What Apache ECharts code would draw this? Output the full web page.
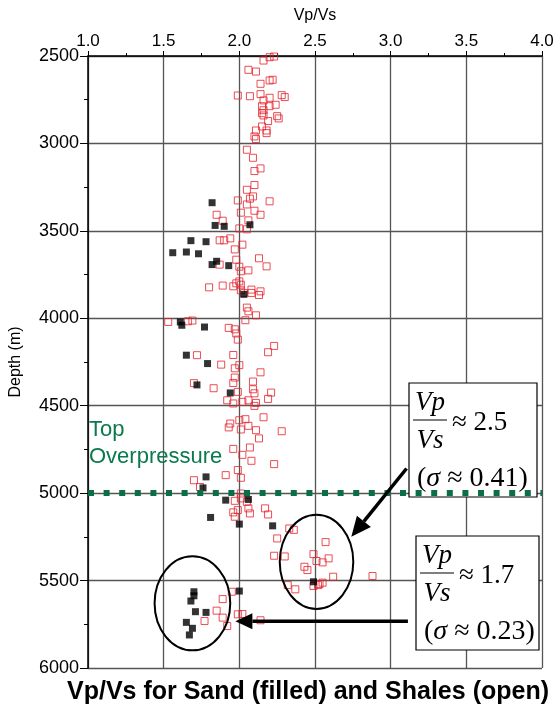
<!DOCTYPE html>
<html>
<head>
<meta charset="utf-8">
<script src="https://cdn.jsdelivr.net/npm/echarts@6/dist/echarts.min.js"></script>
<style>
  html, body { margin: 0; padding: 0; background: #fff; }
  #chart { width: 560px; height: 708px; }
</style>
</head>
<body>
<div id="chart"></div>
<script>
// Shales (open squares): Vp/Vs and depth (m)
const shaleRatio = [
    2.20, 2.23, 2.16, 2.06, 2.11, 2.14, 2.20, 2.22, 1.99, 2.07, 2.14, 2.20, 2.28, 2.30, 2.16, 2.20, 2.24, 2.15,
    2.15, 2.16, 2.16, 2.25, 2.26, 2.19, 2.15, 2.18, 2.18, 2.11, 2.10, 2.11, 2.05, 2.09, 2.14, 2.10, 2.10, 2.05,
    1.99, 2.07, 2.09, 2.05, 2.20, 2.01, 2.10, 2.14, 1.85, 1.89, 2.06, 2.00, 2.05, 1.87, 1.90, 1.94, 2.02, 1.97,
    2.13, 2.18, 1.98, 1.87, 2.00, 2.01, 2.06, 1.80, 1.89, 1.96, 1.98, 2.00, 2.01, 2.01, 2.03, 2.08, 2.14, 2.13,
    2.08, 2.05, 2.06, 2.11, 2.04, 1.53, 1.66, 1.69, 1.93, 1.97, 1.98, 1.99, 2.23,
    1.72, 1.88, 1.96, 2.19, 2.00, 1.97, 2.14, 1.70, 1.83, 1.97, 1.96, 2.09, 2.09, 2.10, 1.99, 1.92, 1.96, 2.02,
    2.06, 2.11, 2.10, 2.19, 2.21, 2.00, 2.04, 1.94, 1.93, 2.06, 2.11, 2.01, 2.13, 2.16, 2.28, 1.96, 2.07, 2.02,
    2.08, 2.23, 1.99, 2.01, 1.91, 1.70, 1.74,
    2.01, 2.01, 1.97, 2.05, 2.06, 2.07, 1.99, 1.96, 1.97, 2.17, 2.19, 2.33, 2.36, 2.25, 2.23, 2.30, 2.32, 2.37,
    2.57, 2.49, 2.51, 2.55, 2.59, 2.43, 2.45, 2.62, 2.88, 2.49, 2.52, 2.55, 2.53,
    1.95, 1.89, 1.85, 1.77, 1.89, 1.92, 1.99, 2.02, 2.14
];
const shaleDepth = [
    2507, 2503, 2526, 2579, 2589, 2659, 2640, 2636, 2726, 2730, 2718, 2739, 2724, 2735, 2754, 2787, 2779, 2787,
    2827, 2840, 2810, 2844, 2857, 2872, 2903, 2926, 2941, 2926, 2960, 2975, 3036, 3082, 3143, 3158, 3238, 3265,
    3326, 3316, 3303, 3349, 3331, 3396, 3385, 3408, 3408, 3442, 3440, 3486, 3491, 3554, 3554, 3543, 3579, 3606,
    3657, 3703, 3665, 3693, 3705, 3731, 3726, 3823, 3813, 3817, 3800, 3789, 3808, 3840, 3855, 3836, 3846, 3867,
    3855, 3939, 3960, 3983, 4011, 4021, 4017, 4013, 4055, 4063, 4087, 4122, 4158,
    4211, 4265, 4210, 4194, 4268, 4286, 4309, 4371, 4400, 4339, 4370, 4362, 4406, 4429, 4421, 4469, 4487, 4478,
    4469, 4484, 4501, 4461, 4425, 4583, 4577, 4602, 4624, 4615, 4640, 4636, 4687, 4566, 4646, 4747, 4739, 4781,
    4815, 4834, 4868, 4912, 4897, 4926, 4965,
    5002, 5030, 5044, 5050, 5087, 5116, 5097, 5110, 5135, 5087, 5122, 5202, 5210, 5259, 5358, 5362, 5526, 5550,
    5280, 5349, 5388, 5396, 5373, 5421, 5440, 5478, 5474, 5531, 5526, 5512, 5520,
    5564, 5606, 5672, 5731, 5712, 5760, 5693, 5691, 5727
];

// Sands (filled squares)
const sandRatio = [
    1.82, 1.84, 1.90, 2.07, 1.68, 1.78, 1.56, 1.65, 1.73, 1.85, 1.82, 1.93, 2.03, 1.61, 1.62, 1.77, 1.65, 1.79,
    1.72, 1.94, 1.78, 1.76, 1.91, 2.06, 1.81, 2.00, 2.22, 2.49, 2.00,
    1.70, 1.70, 1.68, 1.71, 1.78, 1.65, 1.69, 1.67
];
const sandDepth = [
    3339, 3469, 3474, 3465, 3556, 3562, 3625, 3621, 3631, 3674, 3693, 3699, 3863, 4021, 4040, 4050, 4211, 4259,
    4381, 4427, 4907, 4970, 5040, 5036, 5139, 5177, 5187, 5507, 5560,
    5564, 5587, 5617, 5678, 5682, 5739, 5773, 5811
];

const topOverpressure = 5000;

// annotation clusters: [centre ratio, centre depth, half-width ratio, half-height depth]
const shaleCluster = [2.51, 5393, 0.243, 269];
const sandCluster = [1.69, 5630, 0.25, 269];

const chart = echarts.init(document.getElementById("chart"));

const option = {
    animation: false,
    grid: { left: 85, right: 18, top: 56, bottom: 40 },
    xAxis: {
        type: "value",
        position: "top",
        min: 1,
        max: 4,
        interval: 0.5,
        name: "Vp/Vs",
        nameLocation: "middle",
        nameGap: 32,
        nameTextStyle: { fontFamily: "Liberation Sans", fontSize: 16, color: "#000" },
        axisLine: { lineStyle: { color: "#000", width: 1.5 } },
        axisTick: { length: 5, lineStyle: { color: "#000" } },
        minorTick: { show: true, splitNumber: 2, length: 3, lineStyle: { color: "#000" } },
        axisLabel: {
            margin: 6,
            fontFamily: "Liberation Sans",
            fontSize: 17,
            color: "#000",
            formatter: v => v.toFixed(1)
        },
        splitLine: { lineStyle: { color: "#555", width: 1.3 } }
    },
    yAxis: {
        type: "value",
        inverse: true,
        min: 2500,
        max: 6000,
        interval: 500,
        name: "Depth (m)",
        nameLocation: "middle",
        nameRotate: 90,
        nameGap: 64,
        nameTextStyle: { fontFamily: "Liberation Sans", fontSize: 16, color: "#000" },
        axisLine: { lineStyle: { color: "#000", width: 1.5 } },
        axisTick: { length: 8, lineStyle: { color: "#000" } },
        minorTick: { show: true, splitNumber: 2, length: 4, lineStyle: { color: "#000" } },
        axisLabel: {
            margin: 9,
            fontFamily: "Liberation Sans",
            fontSize: 18,
            color: "#000",
            formatter: v => String(v)
        },
        splitLine: { lineStyle: { color: "#555", width: 1.3 } }
    },
    series: [{
        name: "Shales",
        type: "scatter",
        symbol: "rect",
        symbolSize: 7,
        itemStyle: { color: "rgba(0,0,0,0)", borderColor: "#e5222c", borderWidth: 1 },
        data: shaleRatio.map((r, i) => [r, shaleDepth[i]]),
        z: 3
    }, {
        name: "Sands",
        type: "scatter",
        symbol: "rect",
        symbolSize: 7,
        itemStyle: { color: "#000" },
        data: sandRatio.map((r, i) => [r, sandDepth[i]]),
        z: 4,
        markLine: {
            silent: true,
            symbol: "none",
            label: { show: false },
            lineStyle: { color: "#0a6f47", width: 6, type: [6, 9.6] },
            data: [{ yAxis: topOverpressure }]
        }
    }]
};
chart.setOption(option);

// Annotations
function px(r, d) {
    return chart.convertToPixel({ gridIndex: 0 }, [r, d]);
}

function ellipse(c) {
    const p = px(c[0], c[1]);
    const q = px(c[0] + c[2], c[1] + c[3]);
    return {
        type: "ellipse",
        shape: { cx: p[0], cy: p[1], rx: q[0] - p[0], ry: q[1] - p[1] },
        style: { fill: null, stroke: "#000", lineWidth: 2 },
        z: 20
    };
}

function arrow(from, to, L, W) {
    const a = px(from[0], from[1]);
    const b = px(to[0], to[1]);
    const ang = Math.atan2(b[1] - a[1], b[0] - a[0]);
    const bx = b[0] - L * Math.cos(ang), by = b[1] - L * Math.sin(ang);
    const nx = -Math.sin(ang) * W, ny = Math.cos(ang) * W;
    return [{
        type: "line",
        shape: { x1: a[0], y1: a[1], x2: bx, y2: by },
        style: { stroke: "#000", lineWidth: 3.5 },
        z: 20
    }, {
        type: "polygon",
        shape: { points: [[b[0], b[1]], [bx + nx, by + ny], [bx - nx, by - ny]] },
        style: { fill: "#000" },
        z: 20
    }];
}

const serif = '"Liberation Serif", "DejaVu Serif", serif';

function ratioBox(x, y, w, h, value, sigma) {
    return {
        type: "group",
        x: x,
        y: y,
        z: 30,
        children: [{
            type: "rect",
            shape: { x: 0, y: 0, width: w, height: h },
            style: { fill: "#fff", stroke: "#000", lineWidth: 1.2 }
        }, {
            type: "text", x: 21, y: 20,
            style: { text: "Vp", font: "italic 27px " + serif, fill: "#000", align: "center", verticalAlign: "middle" }
        }, {
            type: "line",
            shape: { x1: 4, y1: 37, x2: 38, y2: 37 },
            style: { stroke: "#000", lineWidth: 1.2 }
        }, {
            type: "text", x: 21, y: 58,
            style: { text: "Vs", font: "italic 27px " + serif, fill: "#000", align: "center", verticalAlign: "middle" }
        }, {
            type: "text", x: 43, y: 40,
            style: { text: "\u2248 " + value, font: "27px " + serif, fill: "#000", align: "left", verticalAlign: "middle" }
        }, {
            type: "text", x: 8, y: 96,
            style: {
                text: "{p|(}{i|\u03c3}{p| \u2248 " + sigma + ")}",
                fill: "#000",
                align: "left",
                verticalAlign: "middle",
                rich: {
                    p: { font: "28px " + serif, fill: "#000" },
                    i: { font: "italic 28px " + serif, fill: "#000" }
                }
            }
        }]
    };
}

chart.setOption({
    graphic: [
        ellipse(shaleCluster),
        ellipse(sandCluster),
        ...arrow([3.105, 4859], [2.74, 5250], 20, 9),
        ...arrow([3.114, 5732], [1.974, 5732], 17, 8),
        ratioBox(409, 383, 128, 114, "2.5", "0.41"),
        ratioBox(416, 536, 123, 114, "1.7", "0.23"),
        {
            type: "text",
            x: 89,
            y: 416,
            z: 25,
            style: {
                text: "Top\nOverpressure",
                font: "22px \"Liberation Sans\"",
                lineHeight: 27,
                fill: "#0a7a4d"
            }
        },
        {
            type: "text",
            x: 67,
            y: 680,
            z: 25,
            style: {
                text: "Vp/Vs for Sand (filled) and Shales (open)",
                font: "bold 25px \"Liberation Sans\"",
                fill: "#000"
            }
        }
    ]
});
</script>
</body>
</html>
